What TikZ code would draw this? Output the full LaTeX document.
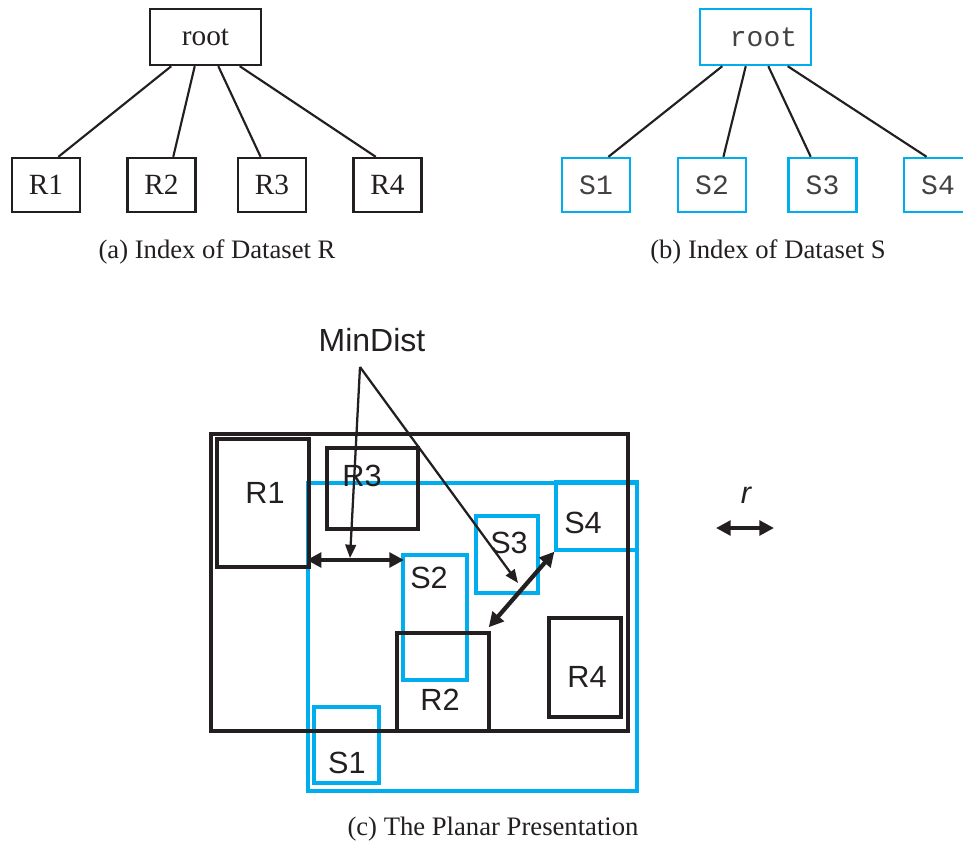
\documentclass[tikz,border=0pt]{standalone}
\usepackage{fontspec}
\setmainfont{Liberation Serif}
\setsansfont{Liberation Sans}
\setmonofont{Liberation Mono}
\usetikzlibrary{arrows.meta,calc,fit}
\definecolor{sblue}{RGB}{0,174,239}
\definecolor{ink}{RGB}{35,31,32}
\begin{document}
\begin{tikzpicture}[x=0.75pt,y=-0.75pt,
 rtree/.style={draw=ink,line width=1.8pt,inner sep=0,minimum width=51pt,minimum height=40.5pt,font=\fontsize{22}{24}\selectfont,text=ink},
 rroot/.style={rtree,minimum width=83.25pt,minimum height=42pt},
 stree/.style={rtree,draw=sblue,font=\ttfamily\fontsize{21}{24}\selectfont,text=ink!85},
 sroot/.style={stree,minimum width=83.25pt,minimum height=42pt},
 edge/.style={draw=ink,line width=1.6pt},
 caption/.style={font=\fontsize{20}{24}\selectfont,text=ink,anchor=base},
 rrect/.style={draw=ink,line width=2.6pt,inner sep=0pt},
 srect/.style={draw=sblue,line width=2.5pt,inner sep=0pt},
 lab/.style={font=\sffamily\fontsize{23}{26}\selectfont,text=ink,anchor=base,inner sep=0pt},
 dbl/.style={draw=ink,line width=3.2pt,{Triangle[length=11pt,width=11pt]}-{Triangle[length=11pt,width=11pt]}},
 ptr/.style={draw=ink,line width=1.7pt,-{Triangle[length=10pt,width=8pt]}}
]
\clip (0,0) rectangle (963,844);
% ---------- (a) tree of R
\node[rroot] (rroot) at (205.5,37) {root};
\node[rtree] (R1t) at (46,185) {R1};
\node[rtree] (R2t) at (161.5,185) {R2};
\node[rtree] (R3t) at (272,185) {R3};
\node[rtree] (R4t) at (387.5,185) {R4};
\draw[edge] ($(rroot.south west)!0.198!(rroot.south east)$) -- ($(R1t.north west)!0.676!(R1t.north east)$);
\draw[edge] ($(rroot.south west)!0.405!(rroot.south east)$) -- ($(R2t.north west)!0.667!(R2t.north east)$);
\draw[edge] ($(rroot.south west)!0.613!(rroot.south east)$) -- ($(R3t.north west)!0.338!(R3t.north east)$);
\draw[edge] ($(rroot.south west)!0.802!(rroot.south east)$) -- ($(R4t.north west)!0.333!(R4t.north east)$);
\node[caption] (capa) at (217,258) {(a) Index of Dataset R};
% ---------- (b) tree of S
\node[sroot] (sroot) at (755.5,37) {\hspace{12pt}root};
\node[stree] (S1t) at (596,185) {S1};
\node[stree] (S2t) at (712,185) {S2};
\node[stree] (S3t) at (822.5,185) {S3};
\node[stree] (S4t) at (938,185) {S4};
\draw[edge] ($(sroot.south west)!0.207!(sroot.south east)$) -- ($(S1t.north west)!0.676!(S1t.north east)$);
\draw[edge] ($(sroot.south west)!0.414!(sroot.south east)$) -- ($(S2t.north west)!0.662!(S2t.north east)$);
\draw[edge] ($(sroot.south west)!0.613!(sroot.south east)$) -- ($(S3t.north west)!0.333!(S3t.north east)$);
\draw[edge] ($(sroot.south west)!0.784!(sroot.south east)$) -- ($(S4t.north west)!0.338!(S4t.north east)$);
\node[caption] (capb) at (768,258) {(b) Index of Dataset S};
% ---------- (c) planar presentation
\node[srect,fit={(308,483) (637,791)}] (Sall) {};
\node[srect,fit={(556,482) (637,550)}] (S4) {};
\node[srect,fit={(476,516) (538,593)}] (S3) {};
\node[srect,fit={(403,555) (467,680)}] (S2) {};
\node[srect,fit={(314,707) (379,783)}] (S1) {};
\node[rrect,fit={(211,434) (628,731)}] (Rall) {};
\node[rrect,fit={(217,439) (309,567)}] (R1) {};
\node[rrect,fit={(327,448) (418,529)}] (R3) {};
\node[rrect,fit={(397,633) (489,731)}] (R2) {};
\node[rrect,fit={(549,618) (621,717)}] (R4) {};
\node[lab] (lR1) at (265,503) {R1};
\node[lab] (lR3) at (362,486) {R3};
\node[lab] (lS3) at (509,553) {S3};
\node[lab] (lS4) at (583,533) {S4};
\node[lab] (lS2) at (429,588) {S2};
\node[lab] (lR2) at (440,710) {R2};
\node[lab] (lR4) at (587,687) {R4};
\node[lab] (lS1) at (347,773) {S1};
\coordinate (hy) at (0,560);
\draw[dbl] ([xshift=-3pt]R1.east |- hy) -- ([xshift=2pt]S2.west |- hy);
\draw[dbl] (S4.south west) -- ([shift={(-1.5pt,3pt)}]R2.north east);
\node[lab,font=\sffamily\fontsize{24}{26}\selectfont] (md) at (372,351) {MinDist};
\coordinate (apex) at (360,367);
\coordinate (t1) at (350,558);
\coordinate (t2) at (518,583);
\draw[ptr] (apex) -- (t1);
\draw[ptr] (apex) -- (t2);
\node[lab,font=\sffamily\itshape\fontsize{23}{26}\selectfont] (rl) at (746,503) {r};
\coordinate (ra) at (716,528);
\coordinate (rb) at (774,528);
\draw[dbl] (ra) -- (rb);
\node[caption] (capc) at (493,835) {(c) The Planar Presentation};
\end{tikzpicture}
\end{document}
